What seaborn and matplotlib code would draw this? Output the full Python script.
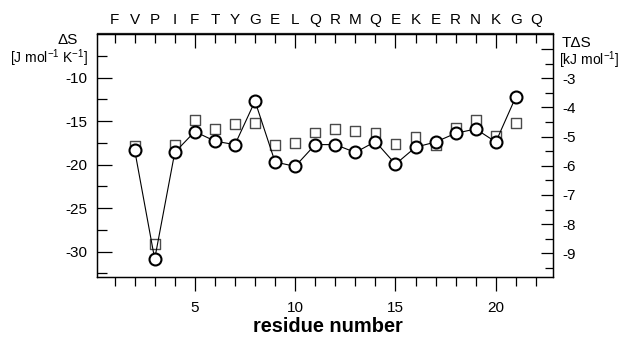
import numpy as np
import pandas as pd
import matplotlib
matplotlib.use("Agg")
import matplotlib.pyplot as plt
import seaborn as sns

# ---- data ----
residues = [2, 3, 4, 5, 6, 7, 8, 9, 10, 11, 12, 13, 14, 15, 16, 17, 18, 19, 20, 21]
dS_circles = [-18.3, -30.85, -18.6, -16.2, -17.3, -17.7, -12.7, -19.7, -20.2, -17.7,
              -17.7, -18.6, -17.35, -19.95, -18.0, -17.4, -16.4, -15.9, -17.4, -12.2]
dS_squares = [-17.8, -29.1, -17.7, -14.9, -15.9, -15.3, -15.2, -17.7, -17.5, -16.3,
              -15.9, -16.1, -16.3, -17.65, -16.8, -17.7, -15.8, -14.9, -16.7, -15.2]
sequence = ["F", "V", "P", "I", "F", "T", "Y", "G", "E", "L", "Q",
            "R", "M", "Q", "E", "K", "E", "R", "N", "K", "G", "Q"]
seq_positions = list(range(1, 23))
bottom_major = [5, 10, 15, 20]
left_major = [-30, -25, -20, -15, -10]
right_major = [-2, -3, -4, -5, -6, -7, -8, -9]
right_labels = ["", "-3", "-4", "-5", "-6", "-7", "-8", "-9"]
T = 298.0

df = pd.DataFrame({"residue": residues, "circ": dS_circles, "sq": dS_squares})

sns.set_theme(style="ticks")
plt.rcParams["font.family"] = ["Liberation Sans", "DejaVu Sans"]
plt.rcParams["mathtext.fontset"] = "custom"
plt.rcParams["mathtext.rm"] = "Liberation Sans"
plt.rcParams["mathtext.it"] = "Liberation Sans"
plt.rcParams["mathtext.bf"] = "Liberation Sans:bold"
plt.rcParams["text.color"] = "black"
plt.rcParams["axes.labelcolor"] = "black"
plt.rcParams["xtick.color"] = "black"
plt.rcParams["ytick.color"] = "black"

W, H = 622, 342
fig = plt.figure(figsize=(W / 100, H / 100), dpi=100)
ax = fig.add_axes([96.7 / W, 1 - 277.3 / H, (553 - 96.7) / W, (277.3 - 33.5) / H])

sns.scatterplot(data=df, x="residue", y="sq", marker="s", s=50, facecolor="none",
                edgecolor="#4a4a4a", linewidth=1.0, ax=ax, zorder=2, legend=False)
sns.lineplot(data=df, x="residue", y="circ", color="black", linewidth=0.8, marker="o",
             markersize=8.6, markerfacecolor="white", markeredgecolor="black",
             markeredgewidth=1.5, ax=ax, zorder=3, legend=False)

xlim = (0.11, 22.85)
ylim = (-32.95, -4.93)
ax.set_xlim(*xlim)
ax.set_ylim(*ylim)
ax.set_xlabel("")
ax.set_ylabel("")

for sp in ax.spines.values():
    sp.set_linewidth(0.9)
    sp.set_color("black")

fs = 11
# bottom axis
ax.set_xticks(bottom_major)
ax.set_xticklabels([str(v) for v in bottom_major])
ax.set_xticks([p for p in seq_positions if p not in bottom_major], minor=True)
ax.tick_params(axis="x", which="major", direction="out", length=10, width=0.9,
               pad=7, labelsize=fs, colors="black", labelcolor="black",
               bottom=True, top=False)
ax.tick_params(axis="x", which="minor", direction="out", length=6.5, width=0.9,
               bottom=True, top=False, colors="black")

# left axis
ax.set_yticks(left_major)
ax.set_yticklabels([str(v) for v in left_major])
ax.set_yticks(list(np.arange(-32.5, -5, 5.0)), minor=True)
ax.tick_params(axis="y", which="major", direction="in", length=10.8, width=0.9,
               pad=7, labelsize=fs, colors="black", labelcolor="black",
               left=True, right=False)
ax.tick_params(axis="y", which="minor", direction="in", length=7.2, width=0.9,
               left=True, right=False, colors="black")

# top axis with sequence
top = ax.secondary_xaxis("top")
top.set_xticks(bottom_major)
top.set_xticklabels([sequence[p - 1] for p in bottom_major])
minor_pos = [p for p in seq_positions if p not in bottom_major]
top.set_xticks(minor_pos, labels=[sequence[p - 1] for p in minor_pos], minor=True)
top.tick_params(axis="x", which="major", direction="in", length=10.8, width=0.9,
                pad=4.5, labelsize=fs, colors="black", labelcolor="black")
top.tick_params(axis="x", which="minor", direction="in", length=7.2, width=0.9,
                pad=4.5, labelsize=fs, colors="black", labelcolor="black")
top.spines["top"].set_linewidth(0.9)

# right axis: T*dS in kJ/mol
ax2 = ax.twinx()
ax2.set_ylim(ylim[0] * T / 1000, ylim[1] * T / 1000)
ax2.set_yticks(right_major)
ax2.set_yticklabels(right_labels)
ax2.set_yticks(list(np.arange(-9.5, -2.0, 1.0)), minor=True)
ax2.tick_params(axis="y", which="major", direction="in", length=8.6, width=0.9,
                pad=6.5, labelsize=fs, colors="black", labelcolor="black")
ax2.tick_params(axis="y", which="minor", direction="in", length=6, width=0.9,
                colors="black")
ax2.grid(False)
for sp in ax2.spines.values():
    sp.set_linewidth(0.9)
    sp.set_color("black")

# axis titles
ufs = 10
fig.text(68 / W, 1 - 40 / H, "ΔS", ha="center", va="center", fontsize=fs)
fig.text(88 / W, 1 - 58 / H, r"[J mol$^{-1}$ K$^{-1}$]", ha="right", va="center",
         fontsize=ufs)
fig.text(562 / W, 1 - 43 / H, "TΔS", ha="left", va="center", fontsize=fs)
fig.text(559 / W, 1 - 60 / H, r"[kJ mol$^{-1}$]", ha="left", va="center", fontsize=ufs)
fig.text(328 / W, 1 - 326 / H, "residue number", ha="center", va="center",
         fontsize=14.4, fontweight="bold", color="black")

fig.savefig("out.png", dpi=100)
